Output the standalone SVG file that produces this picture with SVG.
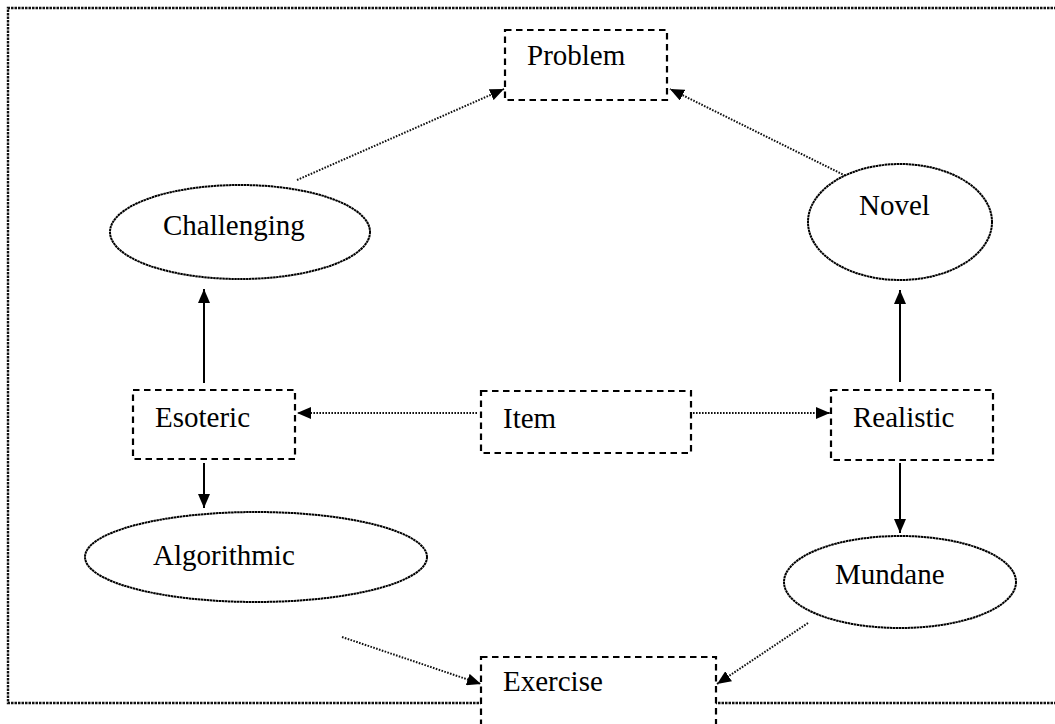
<svg xmlns="http://www.w3.org/2000/svg" width="1055" height="724" viewBox="0 0 1055 724">
<style>
.box{fill:#fff;stroke:#000;stroke-width:2.2;stroke-dasharray:6.5 4.5}
.ell{fill:#fff;stroke:#000;stroke-width:2;stroke-dasharray:2.5 0.5}
.lbl{font-family:"Liberation Serif","Times New Roman",serif;font-size:29px;fill:#000}
.solid{stroke:#000;stroke-width:2;fill:none}
.dot{stroke:#111;stroke-width:2;stroke-dasharray:1.6 1.4;fill:none}
.frame{fill:none;stroke:#111;stroke-width:2.4;stroke-dasharray:2.5 1}
</style>
<defs>
<marker id="ah" viewBox="0 0 14 12" refX="14" refY="6" markerWidth="14" markerHeight="12" markerUnits="userSpaceOnUse" orient="auto">
<path d="M0,0 L14,6 L0,12 z" fill="#000"/>
</marker>
</defs>
<rect width="1055" height="724" fill="#fff"/>
<path class="frame" d="M1060,8 L8,8 L8,703 L1060,703"/>
<g id="connectors">
<line class="solid" x1="204" y1="383" x2="204" y2="289" marker-end="url(#ah)"/>
<line class="solid" x1="204" y1="463" x2="204" y2="508" marker-end="url(#ah)"/>
<line class="solid" x1="900" y1="382" x2="900" y2="290" marker-end="url(#ah)"/>
<line class="solid" x1="900" y1="463" x2="900" y2="533" marker-end="url(#ah)"/>
<line class="dot" x1="477" y1="413" x2="297" y2="413" marker-end="url(#ah)"/>
<line class="dot" x1="693" y1="413" x2="830" y2="413" marker-end="url(#ah)"/>
<line class="dot" x1="297" y1="180" x2="504" y2="89" marker-end="url(#ah)"/>
<line class="dot" x1="848" y1="177" x2="670" y2="89" marker-end="url(#ah)"/>
<line class="dot" x1="342" y1="637" x2="481" y2="684" marker-end="url(#ah)"/>
<line class="dot" x1="808" y1="623" x2="717" y2="684" marker-end="url(#ah)"/>
</g>
<g id="problem"><rect class="box" x="505" y="30" width="162" height="70"/><text class="lbl" x="527" y="65">Problem</text></g>
<g id="challenging"><ellipse class="ell" cx="240" cy="232" rx="130" ry="47"/><text class="lbl" x="163" y="235">Challenging</text></g>
<g id="novel"><ellipse class="ell" cx="900" cy="222" rx="92" ry="58"/><text class="lbl" x="859" y="215">Novel</text></g>
<g id="esoteric"><rect class="box" x="133" y="390" width="162" height="69"/><text class="lbl" x="155" y="427">Esoteric</text></g>
<g id="item"><rect class="box" x="481" y="391" width="210" height="62"/><text class="lbl" x="503" y="428">Item</text></g>
<g id="realistic"><rect class="box" x="831" y="390" width="162" height="70"/><text class="lbl" x="853" y="427">Realistic</text></g>
<g id="algorithmic"><ellipse class="ell" cx="256" cy="557" rx="171" ry="45"/><text class="lbl" x="153" y="565">Algorithmic</text></g>
<g id="mundane"><ellipse class="ell" cx="900" cy="582" rx="116" ry="46"/><text class="lbl" x="835" y="584">Mundane</text></g>
<g id="exercise"><rect class="box" x="481" y="657" width="235" height="80"/><text class="lbl" x="503" y="691">Exercise</text></g>
</svg>
